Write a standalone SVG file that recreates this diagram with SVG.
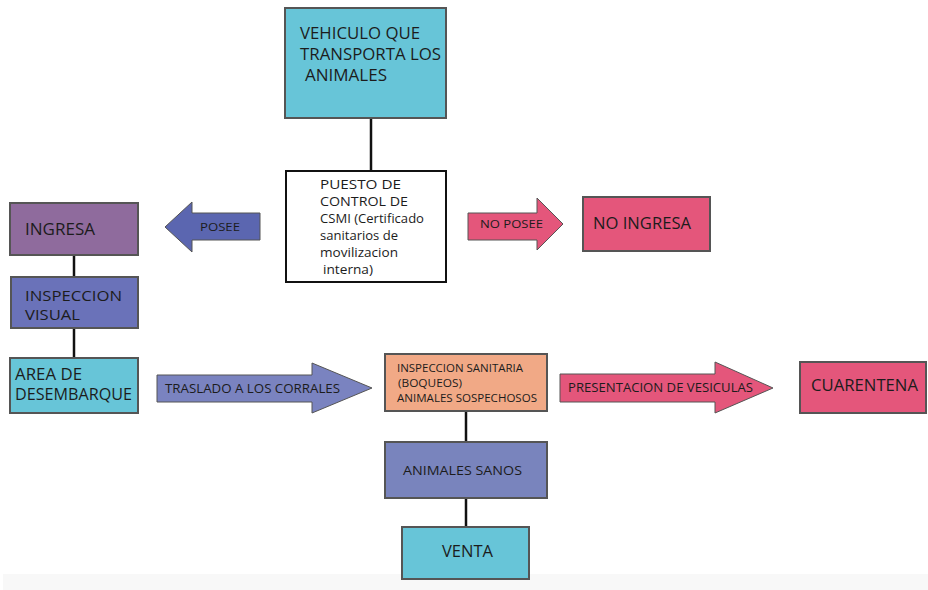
<svg xmlns="http://www.w3.org/2000/svg" width="928" height="590" viewBox="0 0 928 590">
<style>
.box{stroke:#555;stroke-width:2}
.arr{stroke:#555;stroke-width:1}
.t{font-family:"Open Sans","Liberation Sans",sans-serif;fill:#1c1c1c}
.conn{stroke:#111;stroke-width:2.5;fill:none}
</style>
<rect width="928" height="590" fill="#fff"/>
<rect x="3" y="574" width="925" height="16" fill="#f8f8f8"/>
<g id="connectors">
<line class="conn" x1="371" y1="119" x2="371" y2="171"/>
<line class="conn" x1="74" y1="255" x2="74" y2="277"/>
<line class="conn" x1="74" y1="328" x2="74" y2="358"/>
<line class="conn" x1="466" y1="411" x2="466" y2="442"/>
<line class="conn" x1="466" y1="498" x2="466" y2="528"/>
</g>
<g id="vehiculo">
<rect class="box" x="285" y="8" width="161" height="110" fill="#67c5d8"/>
<text class="t" font-size="16" x="300" y="39" textLength="120" lengthAdjust="spacingAndGlyphs">VEHICULO QUE</text>
<text class="t" font-size="16" x="300" y="60" textLength="141" lengthAdjust="spacingAndGlyphs">TRANSPORTA LOS</text>
<text class="t" font-size="16" x="305" y="81" textLength="82" lengthAdjust="spacingAndGlyphs">ANIMALES</text>
</g>
<g id="puesto">
<rect x="286" y="171" width="160" height="111" fill="#fff" stroke="#111" stroke-width="2"/>
<text class="t" font-size="12.5" x="320" y="189" textLength="81" lengthAdjust="spacingAndGlyphs">PUESTO DE</text>
<text class="t" font-size="12.5" x="320" y="206" textLength="88" lengthAdjust="spacingAndGlyphs">CONTROL DE</text>
<text class="t" font-size="12.5" x="320" y="223" textLength="104" lengthAdjust="spacingAndGlyphs">CSMI (Certificado</text>
<text class="t" font-size="12.5" x="320" y="240" textLength="78" lengthAdjust="spacingAndGlyphs">sanitarios de</text>
<text class="t" font-size="12.5" x="320" y="257" textLength="78" lengthAdjust="spacingAndGlyphs">movilizacion</text>
<text class="t" font-size="12.5" x="323" y="274" textLength="50" lengthAdjust="spacingAndGlyphs">interna)</text>
</g>
<g id="posee">
<polygon class="arr" points="260,213 192,213 192,202 165,227 192,252 192,240 260,240" fill="#5b66b0"/>
<text class="t" font-size="11.5" x="200" y="231" textLength="40" lengthAdjust="spacingAndGlyphs">POSEE</text>
</g>
<g id="no-posee">
<polygon class="arr" points="468,213 537,213 537,198 563,224 537,250 537,240 468,240" fill="#e4567b"/>
<text class="t" font-size="11.5" x="480" y="228" textLength="63" lengthAdjust="spacingAndGlyphs">NO POSEE</text>
</g>
<g id="no-ingresa">
<rect class="box" x="583" y="197" width="127" height="54" fill="#e4567b"/>
<text class="t" font-size="16.5" x="593" y="229" textLength="98" lengthAdjust="spacingAndGlyphs">NO INGRESA</text>
</g>
<g id="ingresa">
<rect class="box" x="10" y="203" width="128" height="52" fill="#8f6b9d"/>
<text class="t" font-size="16" x="25" y="235" textLength="70" lengthAdjust="spacingAndGlyphs">INGRESA</text>
</g>
<g id="inspeccion-visual">
<rect class="box" x="11" y="277" width="127" height="51" fill="#6a72b9"/>
<text class="t" font-size="14" x="25" y="301" textLength="97" lengthAdjust="spacingAndGlyphs">INSPECCION</text>
<text class="t" font-size="14" x="25" y="320" textLength="55" lengthAdjust="spacingAndGlyphs">VISUAL</text>
</g>
<g id="area-desembarque">
<rect class="box" x="10" y="358" width="128" height="55" fill="#67c5d8"/>
<text class="t" font-size="15.5" x="15" y="380" textLength="67" lengthAdjust="spacingAndGlyphs">AREA DE</text>
<text class="t" font-size="15.5" x="15" y="400" textLength="117" lengthAdjust="spacingAndGlyphs">DESEMBARQUE</text>
</g>
<g id="traslado">
<polygon class="arr" points="157,375 312,375 312,363 372,388 312,413 312,402 157,402" fill="#7a83c0"/>
<text class="t" font-size="12" x="165" y="393" textLength="175" lengthAdjust="spacingAndGlyphs">TRASLADO A LOS CORRALES</text>
</g>
<g id="inspeccion-sanitaria">
<rect class="box" x="385" y="354" width="162" height="57" fill="#f1a986"/>
<text class="t" font-size="11" x="397" y="372" textLength="126" lengthAdjust="spacingAndGlyphs">INSPECCION SANITARIA</text>
<text class="t" font-size="11" x="398" y="387" textLength="64" lengthAdjust="spacingAndGlyphs">(BOQUEOS)</text>
<text class="t" font-size="11" x="397" y="402" textLength="140" lengthAdjust="spacingAndGlyphs">ANIMALES SOSPECHOSOS</text>
</g>
<g id="presentacion">
<polygon class="arr" points="560,374 715,374 715,362 773,388 715,413 715,402 560,402" fill="#e4567b"/>
<text class="t" font-size="12" x="568" y="392" textLength="185" lengthAdjust="spacingAndGlyphs">PRESENTACION DE VESICULAS</text>
</g>
<g id="cuarentena">
<rect class="box" x="800" y="362" width="126" height="51" fill="#e4567b"/>
<text class="t" font-size="16.5" x="811" y="391" textLength="107" lengthAdjust="spacingAndGlyphs">CUARENTENA</text>
</g>
<g id="animales-sanos">
<rect class="box" x="385" y="442" width="162" height="56" fill="#7984bd"/>
<text class="t" font-size="13.5" x="403" y="475" textLength="119" lengthAdjust="spacingAndGlyphs">ANIMALES SANOS</text>
</g>
<g id="venta">
<rect class="box" x="402" y="527" width="127" height="52" fill="#67c5d8"/>
<text class="t" font-size="16.5" x="442" y="557" textLength="51" lengthAdjust="spacingAndGlyphs">VENTA</text>
</g>
</svg>
